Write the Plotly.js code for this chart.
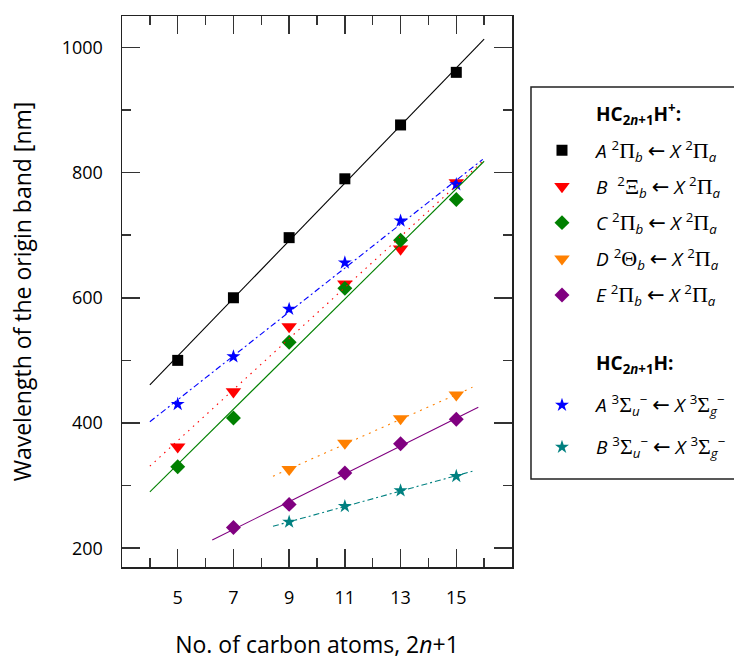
<!DOCTYPE html>
<html>
<head>
<meta charset="utf-8">
<script src="https://cdn.plot.ly/plotly-3.0.1.min.js"></script>
<style>
  html, body { margin: 0; padding: 0; background: #fff; }
  #chart { width: 734px; height: 660px; }
</style>
</head>
<body>
<div id="chart"></div>
<script>
// Number of carbon atoms in the chain, 2n+1
const carbonsAll = [5, 7, 9, 11, 13, 15];
const carbonsFrom7 = [7, 9, 11, 13, 15];
const carbonsFrom9 = [9, 11, 13, 15];

// Origin band wavelengths (nm), HC(2n+1)H+ cations
const cationA = [500, 600, 696, 790, 876, 960];
const cationB = [362, 450, 554, 622, 678, 784];
const cationC = [330, 408, 529, 615, 692, 757];
const cationD = [326, 368, 407, 445];
const cationE = [233, 270, 320, 367, 406];

// Origin band wavelengths (nm), HC(2n+1)H neutrals
const neutralA = [430, 506, 582, 656, 723, 781];
const neutralB = [242, 267, 292, 315];

// Linear trend lines: x end points and wavelength end points
const trendCationAx = [4, 16],        trendCationAy = [461, 1013];
const trendCationBx = [4, 16],        trendCationBy = [331, 820];
const trendCationCx = [4, 16],        trendCationCy = [290, 818];
const trendCationDx = [8.42, 15.58],  trendCationDy = [315, 457];
const trendCationEx = [6.24, 15.79],  trendCationEy = [213, 425];
const trendNeutralAx = [4, 15.95],    trendNeutralAy = [402, 821];
const trendNeutralBx = [8.42, 15.58], trendNeutralBy = [235, 323];

// Axis ticks
const xTickVals = [5, 7, 9, 11, 13, 15];
const yTickVals = [200, 400, 600, 800, 1000];

// Legend labels (Greek term symbols in a serif face, a wider arrow)
const G = s => '<span style="font-family:Liberation Serif;font-size:22px">' + s + '</span>';
const ARROW = ' <span style="font-family:DejaVu Sans;font-size:21px">←</span> ';
const headerCation = '<b>HC<sub>2<i>n</i>+1</sub>H<sup>+</sup>:</b>';
const headerNeutral = '<b>HC<sub>2<i>n</i>+1</sub>H:</b>';
const lowerPi = '<i>X</i> <sup>2</sup>' + G('Π') + '<sub><i>a</i></sub>';
const lowerSigma = '<i>X</i> <sup>3</sup>' + G('Σ') + '<sub><i>g</i></sub><sup>−</sup>';
const labelCationA = '<i>A</i> <sup>2</sup>' + G('Π') + '<sub><i>b</i></sub>' + ARROW + lowerPi;
const labelCationB = '<i>B</i>  <sup>2</sup>' + G('Ξ') + '<sub><i>b</i></sub>' + ARROW + lowerPi;
const labelCationC = '<i>C</i> <sup>2</sup>' + G('Π') + '<sub><i>b</i></sub>' + ARROW + lowerPi;
const labelCationD = '<i>D</i> <sup>2</sup>' + G('Θ') + '<sub><i>b</i></sub>' + ARROW + lowerPi;
const labelCationE = '<i>E</i> <sup>2</sup>' + G('Π') + '<sub><i>b</i></sub>' + ARROW + lowerPi;
const labelNeutralA = '<i>A</i> <sup>3</sup>' + G('Σ') + '<sub><i>u</i></sub><sup>−</sup>' + ARROW + lowerSigma;
const labelNeutralB = '<i>B</i> <sup>3</sup>' + G('Σ') + '<sub><i>u</i></sub><sup>−</sup>' + ARROW + lowerSigma;

const FONT = 'Open Sans, Noto Sans, sans-serif';

function points(name, legend, group, x, y, symbol, size, color) {
  return {
    type: 'scatter', mode: 'markers', name: name, legend: legend, legendgroup: group,
    x: x, y: y, hoverinfo: 'skip',
    marker: { symbol: symbol, size: size, color: color, line: { width: 0 } }
  };
}
function trend(x, y, color, dash) {
  return {
    type: 'scatter', mode: 'lines', x: x, y: y, showlegend: false, hoverinfo: 'skip',
    line: { color: color, width: 1.1, dash: dash }
  };
}
function header(name, legend, group) {
  return {
    type: 'scatter', mode: 'markers', name: name, legend: legend, legendgroup: group,
    x: [null], y: [null], hoverinfo: 'skip',
    marker: { size: 1, color: 'rgba(0,0,0,0)' }
  };
}

const traces = [
  header(headerCation, 'legend', 'h1'),
  points(labelCationA, 'legend', 'ca', carbonsAll, cationA, 'square', 11, '#000000'),
  points(labelCationB, 'legend', 'cb', carbonsAll, cationB, 'triangle-down', 13.5, '#ff0000'),
  points(labelCationC, 'legend', 'cc', carbonsAll, cationC, 'diamond', 11.5, '#008000'),
  points(labelCationD, 'legend', 'cd', carbonsFrom9, cationD, 'triangle-down', 13.5, '#ff8000'),
  points(labelCationE, 'legend', 'ce', carbonsFrom7, cationE, 'diamond', 11.5, '#800080'),
  header(headerNeutral, 'legend2', 'h2'),
  points(labelNeutralA, 'legend2', 'na', carbonsAll, neutralA, 'star', 10.5, '#0000ff'),
  points(labelNeutralB, 'legend2', 'nb', carbonsFrom9, neutralB, 'star', 10.5, '#008080'),
  trend(trendCationAx, trendCationAy, '#000000', 'solid'),
  trend(trendCationBx, trendCationBy, '#ff0000', '1.5px,5px'),
  trend(trendCationCx, trendCationCy, '#008000', 'solid'),
  trend(trendCationDx, trendCationDy, '#ff8000', '2px,5px'),
  trend(trendCationEx, trendCationEy, '#800080', 'solid'),
  trend(trendNeutralAx, trendNeutralAy, '#0000ff', '6px,3px,2px,3px'),
  trend(trendNeutralBx, trendNeutralBy, '#008080', '6px,3px,2px,3px')
];

const axisCommon = {
  ticks: 'inside', ticklen: 18, tickwidth: 1.5, tickcolor: '#333',
  showline: true, linewidth: 1.5, linecolor: '#222', mirror: 'ticks',
  showgrid: false, zeroline: false,
  tickfont: { family: FONT, size: 18, color: '#000' },
  ticklabelstandoff: 14
};

const legendCommon = {
  x: 1.041, xanchor: 'left', yanchor: 'top',
  bgcolor: 'rgba(0,0,0,0)', borderwidth: 0,
  itemwidth: 58,
  font: { family: FONT, size: 19, color: '#000' }
};

const layout = {
  width: 734, height: 660,
  margin: { l: 122, r: 222, t: 16, b: 93, autoexpand: false },
  paper_bgcolor: '#fff', plot_bgcolor: '#fff',
  font: { family: FONT, color: '#000' },
  showlegend: true,
  xaxis: Object.assign({}, axisCommon, {
    range: [3, 17], tickmode: 'array', tickvals: xTickVals,
    minor: { ticks: 'inside', ticklen: 9, tickwidth: 1.5, tickcolor: '#333', tick0: 4, dtick: 2, showgrid: false },
    title: { text: 'No. of carbon atoms, 2<i>n</i>+1', font: { family: FONT, size: 23 }, standoff: 36 }
  }),
  yaxis: Object.assign({}, axisCommon, {
    range: [170, 1050], tickmode: 'array', tickvals: yTickVals,
    minor: { ticks: 'inside', ticklen: 9, tickwidth: 1.5, tickcolor: '#333', tick0: 300, dtick: 200, showgrid: false },
    title: { text: 'Wavelength of the origin band [nm]', font: { family: FONT, size: 23 }, standoff: 23 }
  }),
  legend: Object.assign({}, legendCommon, { y: 0.8563, tracegroupgap: 8.5 }),
  legend2: Object.assign({}, legendCommon, { y: 0.4044, tracegroupgap: 14.3 }),
  shapes: [{
    type: 'rect', xref: 'paper', yref: 'paper',
    x0: 1.0487, x1: 1.6, y0: 0.1597, y1: 0.8711,
    line: { color: '#222', width: 1.5 }, fillcolor: 'rgba(0,0,0,0)'
  }]
};

Plotly.newPlot('chart', traces, layout, { displayModeBar: false, staticPlot: true });
</script>
</body>
</html>
